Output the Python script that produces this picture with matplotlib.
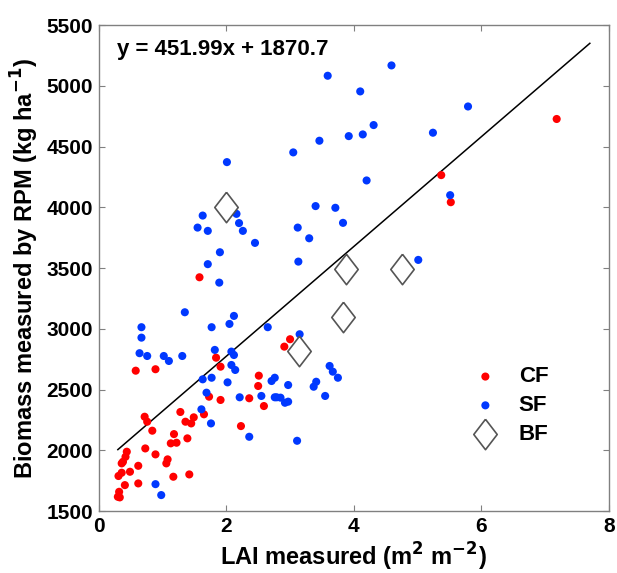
import matplotlib
matplotlib.use("Agg")
import matplotlib.pyplot as plt
import numpy as np

plt.rcParams['font.family'] = ['Liberation Sans', 'DejaVu Sans']
plt.rcParams['font.weight'] = 'bold'

# CF points (red)
cf_x = [0.58, 0.89, 1.84, 1.91, 1.73, 1.91, 2.51, 2.50, 2.59, 2.36, 2.23,
        0.72, 0.76, 0.84, 1.28, 1.36, 1.45, 1.49, 1.65, 1.18, 1.13, 1.22,
        1.39, 0.73, 0.89, 0.44, 0.42, 0.38, 0.36, 1.08, 1.06, 0.62, 0.49,
        0.36, 0.31, 1.17, 1.42, 0.62, 0.41, 0.32, 0.30, 0.33,
        3.00, 2.91, 1.58, 5.37, 5.52, 7.18]
cf_y = [2656, 2668, 2763, 2689, 2442, 2415, 2615, 2530, 2365, 2429, 2200,
        2277, 2236, 2162, 2316, 2236, 2222, 2272, 2297, 2134, 2058, 2063,
        2099, 2016, 1967, 1989, 1947, 1906, 1893, 1926, 1893, 1873, 1824,
        1816, 1789, 1783, 1802, 1728, 1714, 1659, 1618, 1613,
        2915, 2854, 3425, 4266, 4043, 4728]

# SF points (blue)
sf_x = [1.35, 0.67, 0.67, 0.64, 0.76, 1.02, 1.10, 1.31, 1.77, 2.05, 2.12,
        2.65, 1.82, 2.08, 2.12, 2.08, 2.14, 1.77, 1.63, 2.02, 1.69, 1.61,
        1.76, 2.21, 2.36, 2.55, 2.71, 2.76, 0.89, 0.98,
        3.15, 3.10, 3.62, 3.67, 3.75, 2.76, 2.97, 3.41, 3.37, 3.55, 2.79,
        2.85, 2.92, 2.97, 3.11,
        3.46, 3.05, 2.01, 3.40, 1.63, 2.16, 2.20, 2.26, 1.55, 1.71, 2.45,
        3.12, 3.30, 1.90, 1.71, 3.13, 1.89,
        4.59, 3.59, 4.10, 5.79, 4.31, 4.14, 3.92, 5.24, 4.20, 3.71, 3.83,
        5.51, 5.01]
sf_y = [3137, 3014, 2928, 2800, 2777, 2777, 2736, 2777, 3014, 3041, 3107,
        3014, 2827, 2813, 2785, 2703, 2662, 2598, 2585, 2560, 2475, 2338,
        2222, 2437, 2112, 2448, 2571, 2437, 1722, 1632,
        2956, 2791, 2695, 2648, 2598, 2598, 2538, 2565, 2524, 2448, 2437,
        2434, 2392, 2401, 2079,
        4549, 4453, 4373, 4011, 3933, 3947, 3871, 3807, 3834, 3807, 3708,
        3834, 3746, 3631, 3533, 3554, 3381,
        5169, 5084, 4955, 4831, 4678, 4601, 4587, 4615, 4222, 3997, 3873,
        4101, 3568]

# BF points (diamonds)
bf_x = [1.99, 3.14, 3.83, 3.88, 4.76]
bf_y = [4007, 2821, 3096, 3491, 3491]

# regression
slope = 451.99
intercept = 1870.7
fit_range = [0.3, 7.7]

fig = plt.figure(figsize=(6.17, 5.73), dpi=100)
ax = fig.add_axes([0.160, 0.108, 0.827, 0.848])

diamond = [(0, 1), (0.77, 0), (0, -1), (-0.77, 0), (0, 1)]

ax.scatter(cf_x, cf_y, s=34, color='#ff0000', edgecolors='none', label='CF', zorder=3)
ax.scatter(sf_x, sf_y, s=34, color='#0038ff', edgecolors='none', label='SF', zorder=3)
ax.scatter(bf_x, bf_y, s=480, marker=diamond, facecolors='white',
           edgecolors='#555555', linewidths=1.2, label='BF', zorder=4)

xf = np.array(fit_range)
ax.plot(xf, slope * xf + intercept, color='black', lw=1.1, zorder=2)

ax.text(0.035, 0.95, 'y = %.2fx + %.1f' % (slope, intercept), transform=ax.transAxes,
        fontsize=16, fontweight='bold', ha='left', va='center')

ax.set_xlim(0, 8)
ax.set_ylim(1500, 5500)
ax.set_xticks([0, 2, 4, 6, 8])
ax.set_yticks(np.arange(1500, 5501, 500))
ax.tick_params(direction='in', top=True, right=True, length=4, width=0.8,
               color='#808080', labelsize=15, pad=4)
for lab in ax.get_xticklabels() + ax.get_yticklabels():
    lab.set_fontweight('bold')
for sp in ax.spines.values():
    sp.set_color('#808080')
    sp.set_linewidth(1.0)

ax.set_xlabel('LAI measured (m$^{\\mathbf{2}}$ m$^{\\mathbf{-2}}$)', fontsize=17,
              fontweight='bold', labelpad=4)
ax.set_ylabel('Biomass measured by RPM (kg ha$^{\\mathbf{-1}}$)', fontsize=17,
              fontweight='bold', labelpad=4)

leg = ax.legend(loc='lower left', bbox_to_anchor=(0.675, 0.095), frameon=False,
                fontsize=16, handletextpad=0.5, labelspacing=0.35,
                scatterpoints=1)
for t in leg.get_texts():
    t.set_fontweight('bold')

fig.savefig('out.png', dpi=100)
